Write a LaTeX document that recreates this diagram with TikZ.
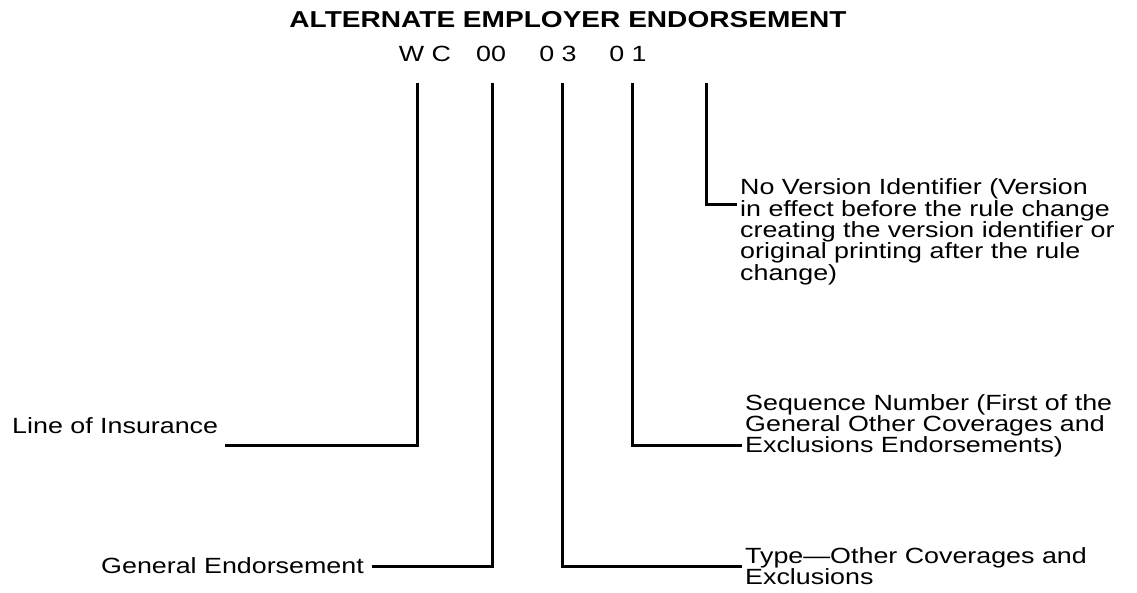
\documentclass[tikz,border=0pt]{standalone}
\usepackage{fontspec}
\setmainfont{Liberation Sans}[FakeStretch=1.22]
\newcommand\lblock[1]{\vtop{\lineskiplimit=-100pt\relax #1}}
\begin{document}
\begin{tikzpicture}[x=1pt,y=-1pt,
  lbl/.style={inner sep=0pt, font=\fontsize{22}{21.3}\selectfont},
  ttl/.style={inner sep=0pt, font=\fontsize{23}{28}\selectfont\bfseries},
  conn/.style={line width=3pt, line join=miter, line cap=butt}]
\useasboundingbox (0,0) rectangle (1137,593);
% title and code
\node[ttl] (title) at (568,20) {ALTERNATE EMPLOYER ENDORSEMENT};
\node[lbl] (wc) at (425,54) {W C};
\node[lbl] (zz) at (491,54) {00};
\node[lbl] (zt) at (558,54) {0 3};
\node[lbl] (zo) at (628,54) {0 1};
% labels
\node[lbl, anchor=base west] (loi) at (12,433) {Line of Insurance};
\node[lbl, anchor=base east] (ge) at (364,573) {General Endorsement};
\node[lbl, anchor=base west] (nvi) at (740,195) {\lblock{\hbox{No Version Identifier (Version}\hbox{in effect before the rule change}\hbox{creating the version identifier or}\hbox{original printing after the rule}\hbox{change)}}};
\node[lbl, anchor=base west] (seq) at (745,410) {\lblock{\hbox{Sequence Number (First of the}\hbox{General Other Coverages and}\hbox{Exclusions Endorsements)}}};
\node[lbl, anchor=base west] (typ) at (745,563) {\lblock{\hbox{Type---Other Coverages and}\hbox{Exclusions}}};
% connector ends
\coordinate (t1) at (417,83);
\coordinate (t2) at (492,83);
\coordinate (t3) at (562,83);
\coordinate (t4) at (632,83);
\coordinate (t5) at (706,83);
\coordinate (e1) at (225,445.5);
\coordinate (e2) at (372,566);
\coordinate (e3) at (742,566);
\coordinate (e4) at (742,445.5);
\coordinate (e5) at (737,205);
\draw[conn] (t1) |- (e1);
\draw[conn] (t2) |- (e2);
\draw[conn] (t3) |- (e3);
\draw[conn] (t4) |- (e4);
\draw[conn] (t5) |- (e5);
\end{tikzpicture}
\end{document}
